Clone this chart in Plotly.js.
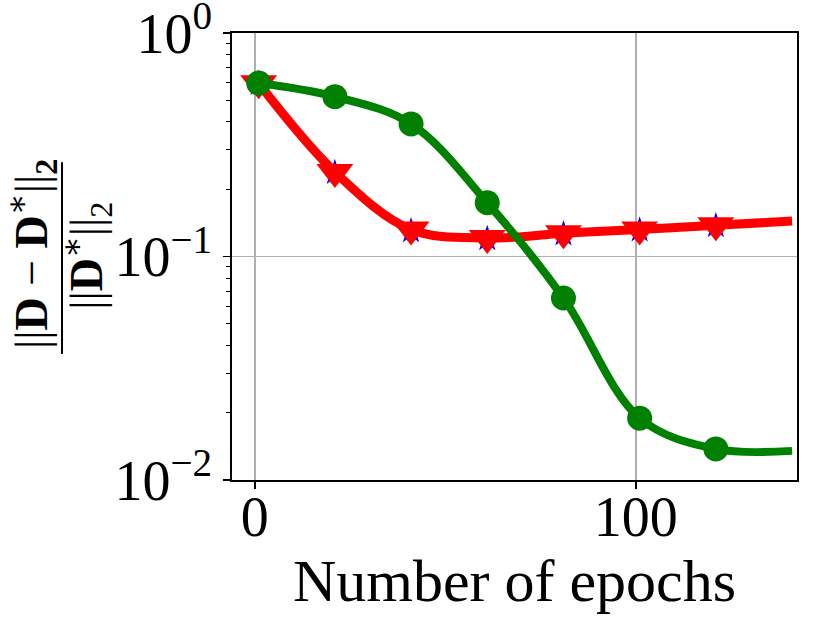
<!DOCTYPE html>
<html>
<head>
<meta charset="utf-8">
<script src="https://cdn.plot.ly/plotly-3.0.1.min.js"></script>
<style>html,body{margin:0;padding:0;background:#fff;}#chart{width:829px;height:622px;}</style>
</head>
<body>
<div id="chart"></div>
<script>
// Data
const epochs = [1, 21, 41, 61, 81, 101, 121, 141];
const greenErr = [0.597, 0.519, 0.392, 0.174, 0.0652, 0.0189, 0.01377, 0.0135];
const redErr   = [0.596, 0.239, 0.132, 0.121, 0.127, 0.132, 0.138, 0.144];
const blueErr  = [0.594, 0.237, 0.130, 0.120, 0.126, 0.131, 0.137, 0.143];
const markerEpochs = [1, 21, 41, 61, 81, 101, 121];
const xTickVals = [0, 100];
const xTickText = ['0', '100'];
const yTickVals = [0.01, 0.1, 1];
const yTickText = ['10<sup>−2</sup>', '10<sup>−1</sup>', '10<sup>0</sup>'];
const yMinorVals = [0.02,0.03,0.04,0.05,0.06,0.07,0.08,0.09,0.2,0.3,0.4,0.5,0.6,0.7,0.8,0.9];

function markerSubset(vals){ return markerEpochs.map(e => vals[epochs.indexOf(e)]); }

const font = 'Liberation Serif, DejaVu Serif, serif';

const traces = [
  {x: epochs, y: blueErr, mode: 'lines', line: {color: '#0000ff', width: 2, shape: 'spline', smoothing: 1}},
  {x: markerEpochs, y: markerSubset(blueErr), mode: 'markers', marker: {symbol: 'star', color: '#0000ff', size: 20}},
  {x: epochs, y: redErr, mode: 'lines', line: {color: '#ff0000', width: 9, shape: 'spline', smoothing: 1}},
  {x: markerEpochs, y: markerSubset(redErr), mode: 'markers', marker: {symbol: 'triangle-down', color: '#ff0000', size: 32}},
  {x: epochs, y: greenErr, mode: 'lines', line: {color: '#008000', width: 8, shape: 'spline', smoothing: 1}},
  {x: markerEpochs, y: markerSubset(greenErr), mode: 'markers', marker: {symbol: 'circle', color: '#008000', size: 25}}
];

const layout = {
  width: 829, height: 622,
  margin: {l: 232, r: 32, t: 33, b: 142},
  paper_bgcolor: '#fff', plot_bgcolor: '#fff',
  showlegend: false,
  font: {family: font, color: '#000'},
  xaxis: {
    range: [-6, 142.3],
    tickvals: xTickVals, ticktext: xTickText,
    ticks: 'outside', ticklen: 7, tickwidth: 1.5, tickcolor: '#000',
    ticklabelstandoff: -20,
    showline: true, linecolor: '#000', linewidth: 1.6, mirror: true,
    showgrid: true, gridcolor: '#b0b0b0', gridwidth: 1.5,
    zeroline: false,
    tickfont: {size: 56, family: font},
    title: {text: 'Number of epochs', font: {size: 60, family: font}, standoff: 0}
  },
  yaxis: {
    type: 'log',
    range: [-2, 0],
    tickvals: yTickVals, ticktext: yTickText,
    ticks: 'outside', ticklen: 7, tickwidth: 1.5, tickcolor: '#000',
    ticklabeloverflow: 'allow',
    minor: {tickvals: yMinorVals, ticks: 'outside', ticklen: 4, tickwidth: 1, tickcolor: '#000', showgrid: false},
    showline: true, linecolor: '#000', linewidth: 1.6, mirror: true,
    showgrid: true, gridcolor: '#b0b0b0', gridwidth: 1.5,
    zeroline: false,
    tickfont: {size: 56, family: font}
  },
  annotations: [
    {xref: 'paper', yref: 'paper', x: -0.354, y: 0.5056, xanchor: 'center', yanchor: 'middle',
     text: '||<b>D</b> − <b>D</b><sup>∗</sup>||<b><sub>2</sub></b>', textangle: -90, showarrow: false,
     font: {size: 46, family: font}},
    {xref: 'paper', yref: 'paper', x: -0.259, y: 0.501, xanchor: 'center', yanchor: 'middle',
     text: '||<b>D</b><sup>∗</sup>||<sub>2</sub>', textangle: -90, showarrow: false,
     font: {size: 46, family: font}}
  ],
  shapes: [
    {type: 'line', xref: 'paper', yref: 'paper', x0: -0.3009, x1: -0.3009, y0: 0.282, y1: 0.711,
     line: {color: '#000', width: 2}}
  ]
};

Plotly.newPlot('chart', traces, layout, {displayModeBar: false, staticPlot: true});
</script>
</body>
</html>
